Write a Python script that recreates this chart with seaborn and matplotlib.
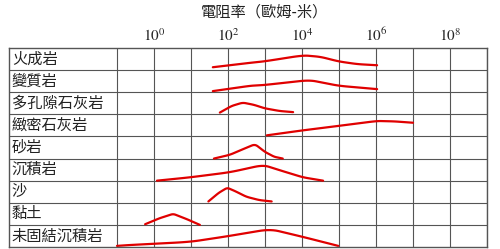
import numpy as np
import pandas as pd
import matplotlib
matplotlib.use("Agg")
import matplotlib.pyplot as plt
import seaborn as sns

# Rock types (top to bottom)
rocks = ["火成岩", "變質岩", "多孔隙石灰岩", "緻密石灰岩", "砂岩", "沉積岩", "沙", "黏土", "未固結沉積岩"]

# Curve shapes: log10 resistivity (ohm-m) and relative height within row (0..1)
igneous_log = [1.59, 2.6, 3.0, 4.03, 4.5, 5.0, 5.5, 6.03]
igneous_h   = [0.13, 0.33, 0.40, 0.67, 0.60, 0.39, 0.27, 0.22]
metamorphic_log = [1.59, 2.6, 3.0, 4.2, 5.0, 6.03]
metamorphic_h   = [0.05, 0.29, 0.33, 0.55, 0.29, 0.14]
porous_ls_log = [1.78, 2.1, 2.4, 2.7, 3.0, 3.4, 3.76]
porous_ls_h   = [0.08, 0.38, 0.53, 0.43, 0.27, 0.15, 0.10]
dense_ls_log = [3.05, 4.0, 5.0, 6.03, 6.5, 7.0]
dense_ls_h   = [0.05, 0.27, 0.48, 0.70, 0.68, 0.62]
sandstone_log = [1.62, 2.05, 2.4, 2.73, 3.0, 3.25, 3.48]
sandstone_h   = [0.00, 0.17, 0.42, 0.65, 0.30, 0.08, 0.00]
sedimentary_log = [0.08, 0.97, 2.05, 2.95, 3.5, 4.03, 4.57]
sedimentary_h   = [0.00, 0.15, 0.38, 0.71, 0.42, 0.15, 0.00]
sand_log = [1.47, 1.75, 1.98, 2.2, 2.5, 2.85, 3.18]
sand_h   = [0.06, 0.45, 0.68, 0.52, 0.27, 0.12, 0.06]
clay_log = [-0.24, 0.15, 0.52, 0.9, 1.24]
clay_h   = [0.03, 0.30, 0.50, 0.25, 0.00]
unconsol_log = [-1.0, -0.65, 0.97, 1.96, 3.14, 4.04, 4.98]
unconsol_h   = [0.05, 0.09, 0.23, 0.48, 0.81, 0.45, 0.05]

curves_log = [igneous_log, metamorphic_log, porous_ls_log, dense_ls_log, sandstone_log,
              sedimentary_log, sand_log, clay_log, unconsol_log]
curves_h = [igneous_h, metamorphic_h, porous_ls_h, dense_ls_h, sandstone_h,
            sedimentary_h, sand_h, clay_h, unconsol_h]

tick_exps = [0, 2, 4, 6, 8]
grid_exps = [-1, 1, 3, 5, 7, 9]
title = "電阻率（歐姆-米）"

# smooth each curve (resample along its own parameter, then moving average)
sm_rows = []
for i, (name, lg, hh) in enumerate(zip(rocks, curves_log, curves_h)):
    lx = np.asarray(lg, dtype=float)
    yy = i + 1 - np.asarray(hh, dtype=float)
    t = np.linspace(0, 1, len(lx))
    tt = np.linspace(0, 1, 80)
    xs = np.interp(tt, t, lx)
    ys = np.interp(tt, t, yy)
    k = np.ones(7) / 7
    xs_s = np.convolve(np.pad(xs, 3, mode="edge"), k, mode="valid")
    ys_s = np.convolve(np.pad(ys, 3, mode="edge"), k, mode="valid")
    xs_s[0], ys_s[0], xs_s[-1], ys_s[-1] = xs[0], ys[0], xs[-1], ys[-1]
    for c, (a, b) in enumerate(zip(xs_s, ys_s)):
        sm_rows.append({"rock": name, "order": c, "res": 10.0 ** a, "y": b})
sdf = pd.DataFrame(sm_rows)

sns.set_theme(style="white")
plt.rcParams["font.family"] = ["Noto Sans CJK TC", "DejaVu Sans"]
plt.rcParams["mathtext.fontset"] = "stix"

fig = plt.figure(figsize=(5.0, 2.49), dpi=100)
ax = fig.add_axes([9 / 500, 2 / 249, 478 / 500, 199 / 249])

sns.lineplot(data=sdf, x="res", y="y", units="rock", estimator=None, sort=False,
             color="#e00000", linewidth=1.6, ax=ax, legend=False)

ax.set_xscale("log")
ax.set_xlim(10 ** (-1 - 108 / 37), 10 ** 9)
ax.set_ylim(9, 0)

ax.set_xticks([10.0 ** e for e in tick_exps])
ax.set_xticklabels([f"$10^{{{e}}}$" for e in tick_exps], fontsize=11)
ax.set_xticks([10.0 ** e for e in grid_exps], minor=True)
ax.xaxis.set_minor_formatter(matplotlib.ticker.NullFormatter())
ax.xaxis.tick_top()
ax.tick_params(axis="x", which="both", length=0, pad=2)
ax.set_yticks(range(1, 9))
ax.set_yticklabels([])
ax.tick_params(axis="y", length=0)
ax.grid(True, which="both", axis="both", color="#555555", linewidth=0.8)
ax.set_axisbelow(True)
ax.set_xlabel("")
ax.set_ylabel("")
for s in ax.spines.values():
    s.set_visible(True)
    s.set_color("#555555")
    s.set_linewidth(1.0)

for i, name in enumerate(rocks):
    ax.text(0.006, i + 0.5, name, transform=ax.get_yaxis_transform(),
            ha="left", va="center", fontsize=11, color="#222222")

fig.text(265 / 500, 1 - 12 / 249, title, ha="center", va="center", fontsize=11, color="#222222")

fig.savefig("out.png", dpi=100)
